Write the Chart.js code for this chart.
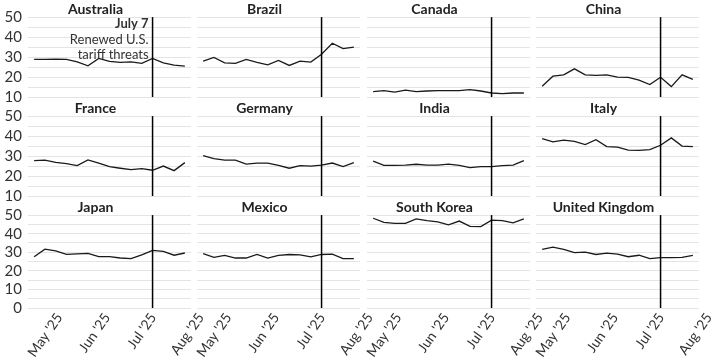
<!DOCTYPE html>
<html>
<head>
<meta charset="utf-8">
<script src="https://cdn.jsdelivr.net/npm/chart.js@4.4.1/dist/chart.umd.min.js"></script>
<style>
  html, body { margin: 0; padding: 0; background: #fff; }
  #wrap { position: relative; width: 720px; height: 360px; overflow: hidden; }
  #wrap canvas { position: absolute; }
</style>
</head>
<body>
<div id="wrap"></div>
<script>
// weekly readings (week starting)
const weekDates = ['2025-04-21', '2025-04-28', '2025-05-05', '2025-05-12', '2025-05-19',
  '2025-05-26', '2025-06-02', '2025-06-09', '2025-06-16', '2025-06-23',
  '2025-06-30', '2025-07-07', '2025-07-14', '2025-07-21', '2025-07-28'];
const xStart = '2025-04-17';
const xEnd = '2025-08-01';
const monthTicks = ['2025-05-01', '2025-06-01', '2025-07-01', '2025-08-01'];
const monthLabels = ["May '25", "Jun '25", "Jul '25", "Aug '25"];
const eventDate = '2025-07-07';
const eventNote = ['July 7', 'Renewed U.S.', 'tariff threats'];

const countries = ['Australia', 'Brazil', 'Canada', 'China', 'France', 'Germany',
  'India', 'Italy', 'Japan', 'Mexico', 'South Korea', 'United Kingdom'];

const australia = [28.8, 28.8, 28.9, 28.8, 27.6, 25.6, 29.3, 27.8, 27.3, 27.6, 26.8, 29.3, 27.1, 26.0, 25.5];
const brazil = [28.0, 29.8, 27.1, 26.8, 28.8, 27.3, 26.1, 28.3, 25.8, 28.0, 27.5, 31.4, 36.9, 34.2, 35.0];
const canada = [12.7, 13.2, 12.4, 13.4, 12.7, 13.0, 13.2, 13.2, 13.2, 13.7, 13.0, 12.0, 11.7, 12.0, 12.0];
const china = [15.4, 20.4, 21.1, 24.1, 21.1, 20.8, 21.1, 19.9, 19.8, 18.4, 16.2, 19.9, 15.2, 21.1, 18.8];
const france = [27.7, 28.0, 26.8, 26.2, 25.2, 28.1, 26.4, 24.7, 23.9, 23.2, 23.7, 22.9, 25.0, 22.7, 26.7];
const germany = [30.2, 28.7, 28.0, 28.0, 26.0, 26.5, 26.5, 25.3, 23.9, 25.2, 25.0, 25.5, 26.5, 24.7, 26.7];
const india = [27.5, 25.3, 25.3, 25.5, 25.9, 25.5, 25.5, 26.0, 25.3, 24.2, 24.7, 24.7, 25.2, 25.5, 27.7];
const italy = [38.7, 37.1, 38.0, 37.4, 35.7, 38.2, 34.7, 34.5, 33.0, 32.8, 33.2, 35.4, 39.1, 35.0, 34.7];
const japan = [27.6, 31.7, 30.7, 28.9, 29.1, 29.4, 27.6, 27.6, 26.9, 26.6, 28.6, 31.0, 30.5, 28.4, 29.6];
const mexico = [29.3, 27.3, 28.3, 26.9, 26.9, 28.8, 26.9, 28.3, 28.8, 28.6, 27.5, 28.8, 29.0, 26.6, 26.6];
const southKorea = [48.3, 46.1, 45.5, 45.5, 48.0, 47.0, 46.3, 44.8, 46.8, 43.9, 43.8, 47.3, 47.0, 45.8, 48.0];
const unitedKingdom = [31.5, 32.8, 31.5, 29.8, 30.1, 28.8, 29.5, 29.0, 27.6, 28.4, 26.6, 27.1, 27.1, 27.3, 28.3];

const seriesList = [australia, brazil, canada, china, france, germany,
  india, italy, japan, mexico, southKorea, unitedKingdom];

function dayNum(s) {
  const [y, m, d] = s.split('-').map(Number);
  return Date.UTC(y, m - 1, d) / 86400000;
}

Chart.defaults.font.family = 'Lato, "Open Sans", sans-serif';
Chart.defaults.color = '#333';

// vertical marker at the event date, plus the note in the first panel
const eventLine = {
  id: 'eventLine',
  afterDatasetsDraw(chart, args, opts) {
    const { ctx, chartArea, scales } = chart;
    const x = scales.x.getPixelForValue(dayNum(eventDate));
    ctx.save();
    ctx.strokeStyle = '#000';
    ctx.lineWidth = 1.5;
    ctx.beginPath();
    ctx.moveTo(x, chartArea.top);
    ctx.lineTo(x, chartArea.bottom);
    ctx.stroke();
    if (opts.note) {
      ctx.fillStyle = '#333';
      ctx.textAlign = 'right';
      ctx.textBaseline = 'middle';
      eventNote.forEach((t, i) => {
        ctx.font = (i === 0 ? 'bold ' : '') + '13px Lato, sans-serif';
        ctx.fillText(t, x - 4, chartArea.top + 7 + i * 15.5);
      });
    }
    ctx.restore();
  }
};

const wrap = document.getElementById('wrap');
const colLeft = [0, 169, 339, 508];
const rowTop = [0, 99, 198];

countries.forEach((name, i) => {
  const row = Math.floor(i / 4), col = i % 4;
  const bottomRow = row === 2;
  const canvas = document.createElement('canvas');
  const w = 203, h = bottomRow ? 162 : 112;
  canvas.width = w; canvas.height = h;
  canvas.style.left = colLeft[col] + 'px';
  canvas.style.top = rowTop[row] + 'px';
  canvas.style.width = w + 'px';
  canvas.style.height = h + 'px';
  wrap.appendChild(canvas);

  const points = seriesList[i].map((v, k) => ({ x: dayNum(weekDates[k]), y: v }));

  new Chart(canvas, {
    type: 'line',
    data: {
      datasets: [{
        data: points,
        borderColor: '#1a1a1a',
        borderWidth: 1.3,
        pointRadius: 0,
        tension: 0,
        fill: false
      }]
    },
    plugins: [eventLine],
    options: {
      responsive: false,
      animation: false,
      devicePixelRatio: 1,
      layout: { padding: { left: 0, top: 0, right: 12, bottom: bottomRow ? 0 : 15 } },
      plugins: {
        legend: { display: false },
        tooltip: { enabled: false },
        title: {
          display: true,
          text: name,
          color: '#222',
          font: { size: 14, weight: 'bold', lineHeight: 1.15 },
          padding: { top: 1, bottom: 0 }
        },
        eventLine: { note: i === 0 }
      },
      scales: {
        x: {
          type: 'linear',
          display: bottomRow,
          min: dayNum(xStart),
          max: dayNum(xEnd),
          grid: { display: false },
          border: { display: false },
          afterBuildTicks(scale) {
            scale.ticks = monthTicks.map(d => ({ value: dayNum(d) }));
          },
          afterFit(scale) {
            if (!bottomRow) return;
            scale.height = 52;
            scale.paddingLeft = 0;
            scale.paddingRight = 0;
          },
          ticks: {
            autoSkip: false,
            minRotation: 55,
            maxRotation: 55,
            padding: -6,
            labelOffset: 10,
            font: { size: 14 },
            color: '#333',
            callback: (v, idx) => monthLabels[idx]
          }
        },
        y: {
          min: bottomRow ? 0 : 10,
          max: 50,
          grid: { color: '#e4e4e4', lineWidth: 1, drawTicks: false },
          border: { display: false },
          afterFit(scale) {
            scale.width = 28;
            scale.paddingTop = 0;
            scale.paddingBottom = 0;
          },
          ticks: {
            display: col === 0,
            stepSize: 5,
            autoSkip: false,
            padding: 6,
            font: { size: 15 },
            color: '#333',
            callback: v => (v % 10 === 0 ? v : '')
          }
        }
      }
    }
  });
});
</script>
</body>
</html>
